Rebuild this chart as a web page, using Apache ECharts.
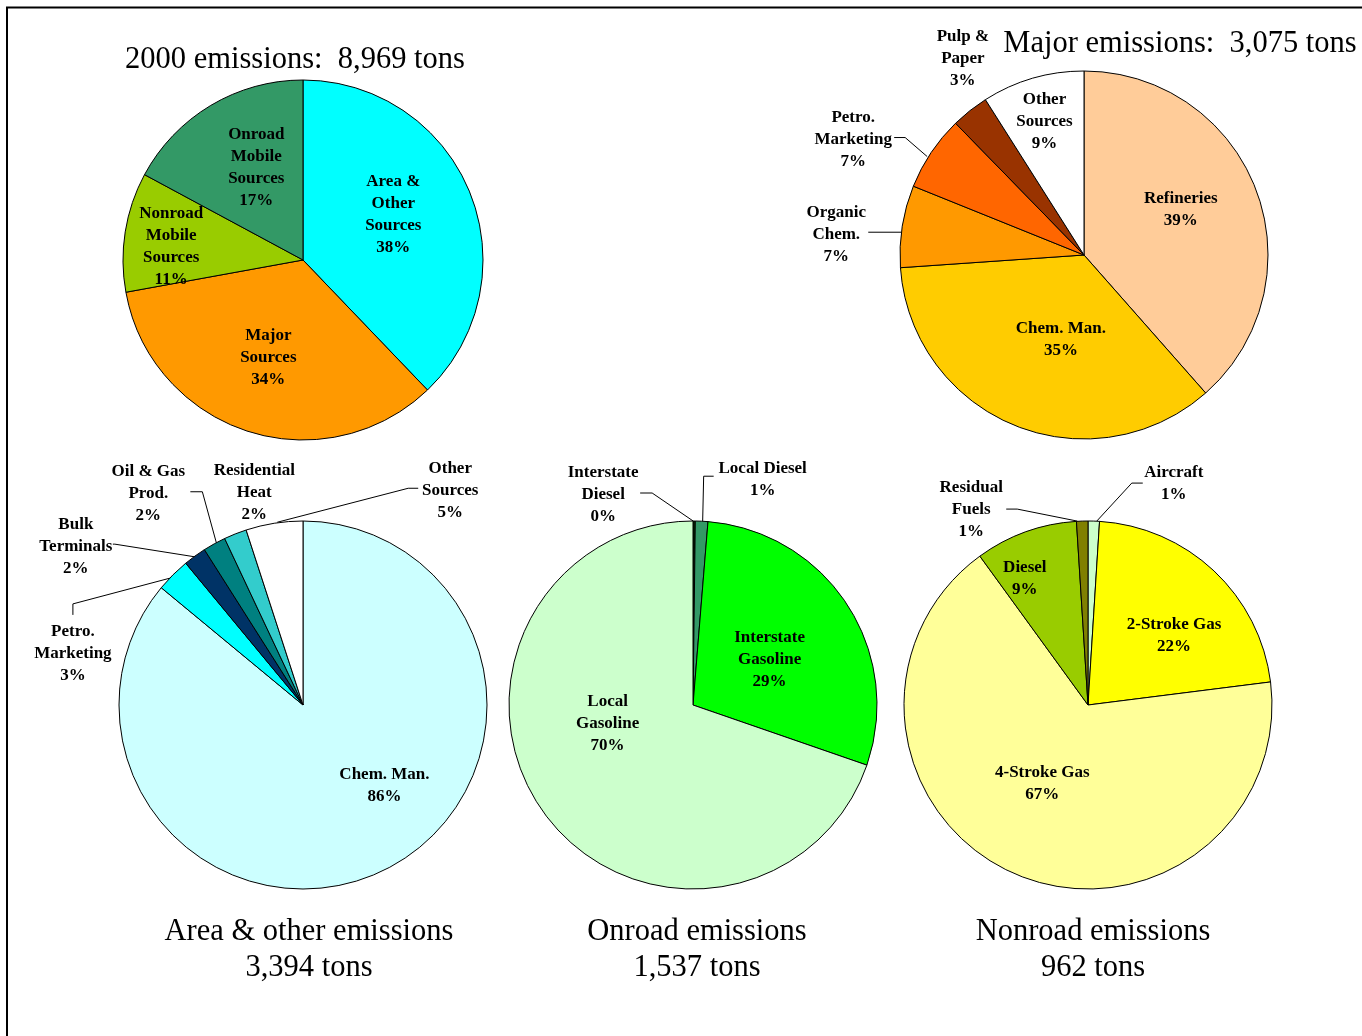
<!DOCTYPE html>
<html>
<head>
<meta charset="utf-8">
<title>Emissions by source</title>
<script src="https://cdn.jsdelivr.net/npm/echarts@6/dist/echarts.min.js"></script>
<style>
  html, body { margin: 0; padding: 0; background: #fff; }
  #chart { width: 1362px; height: 1036px; }
</style>
</head>
<body>
<div id="chart"></div>
<script>
// ---- data -------------------------------------------------------------
// 2000 emissions by sector (tons)
const totalNames = ['Area &\nOther\nSources', 'Major\nSources', 'Nonroad\nMobile\nSources', 'Onroad\nMobile\nSources'];
const totalTons = [3394, 3075, 962, 1537];

// Major sources (% of 3,075 tons)
const majorNames = ['Refineries', 'Chem. Man.', 'Organic\nChem.', 'Petro.\nMarketing', 'Pulp &\nPaper', 'Other\nSources'];
const majorPct = [38.5, 35.4, 7.2, 6.6, 3.3, 9.0];

// Area & other sources (% of 3,394 tons)
const areaNames = ['Chem. Man.', 'Petro.\nMarketing', 'Bulk\nTerminals', 'Oil & Gas\nProd.', 'Residential\nHeat', 'Other\nSources'];
const areaPct = [86, 3, 2, 2, 2, 5];

// Onroad mobile (% of 1,537 tons)
const onroadNames = ['Interstate\nDiesel', 'Local Diesel', 'Interstate\nGasoline', 'Local\nGasoline'];
const onroadPct = [0.2, 1.1, 29, 69.7];

// Nonroad mobile (% of 962 tons)
const nonroadNames = ['Aircraft', '2-Stroke Gas', '4-Stroke Gas', 'Diesel', 'Residual\nFuels'];
const nonroadPct = [1, 22, 67, 9, 1];

// Chart headings
const headings = [
  '2000 emissions:  8,969 tons',
  'Major emissions:  3,075 tons',
  'Area & other emissions\n3,394 tons',
  'Onroad emissions\n1,537 tons',
  'Nonroad emissions\n962 tons'
];

// ---- styles & layout ---------------------------------------------------
const SERIF = '"Liberation Serif", "Times New Roman", serif';

const totalColors   = ['#00FFFF', '#FF9900', '#99CC00', '#339966'];
const majorColors   = ['#FFCC99', '#FFCC00', '#FF9900', '#FF6600', '#993300', '#FFFFFF'];
const areaColors    = ['#CCFFFF', '#00FFFF', '#003366', '#008080', '#33CCCC', '#FFFFFF'];
const onroadColors  = ['#003300', '#339966', '#00FF00', '#CCFFCC'];
const nonroadColors = ['#CCFFCC', '#FFFF00', '#FFFF99', '#99CC00', '#808000'];

// Label placement per slice:
//   nudge: shift of an inside label from its default spot
//   out:   label centre relative to the slice's outer mid point
//   line:  leader line vertices relative to the same point
const pies = [
  {
    names: totalNames, values: totalTons, colors: totalColors, center: [303, 260], r: 180,
    place: [{ nudge: [4, -11] }, { nudge: [-6, 9] }, { nudge: [-40, 1] }, { nudge: [1, -13] }]
  },
  {
    names: majorNames, values: majorPct, colors: majorColors, center: [1084, 255], r: 184,
    place: [
      { nudge: [8, -12] },
      { nudge: [13, -3] },
      { out: [-66, 8], line: [[-1, 6], [-34, 6]] },
      { out: [-78, -13], line: [[-4, 4], [-26, -15], [-37, -15]] },
      { out: [-7, -52] },
      { nudge: [-13, -42] }
    ]
  },
  {
    names: areaNames, values: areaPct, colors: areaColors, center: [303, 705], r: 184,
    place: [
      { nudge: [41, -5] },
      { out: [-100, 79], line: [[-2, 3], [-100, 29], [-100, 40]] },
      { out: [-119, -10], line: [[2, 1], [-80, -12], [-82, -12]] },
      { out: [-66, -50], line: [[2, -1], [-12, -52], [-24, -52]] },
      { out: [19, -41] },
      { out: [176, -33], line: [[3, -1], [134, -35], [144, -35]] }
    ]
  },
  {
    names: onroadNames, values: onroadPct, colors: onroadColors, center: [693, 705], r: 184,
    place: [
      { out: [-91, -26], line: [[-1, 0], [-42, -28], [-54, -28]] },
      { out: [61, -42], line: [[1, 0], [2, -45], [12, -45]] },
      { nudge: [-3, 7] },
      { nudge: [-8, -37] }
    ]
  },
  {
    names: nonroadNames, values: nonroadPct, colors: nonroadColors, center: [1088, 705], r: 184,
    place: [
      { out: [80, -37], line: [[3, 0], [38, -38], [49, -38]] },
      { nudge: [21, 0] },
      { nudge: [-8, -9] },
      { nudge: [-31, -37] },
      { out: [-111, -11], line: [[-5, 0], [-65, -12], [-76, -12]] }
    ]
  }
];

const headingSpots = [[295, 60], [1180, 44], [309, 950], [697, 950], [1093, 950]];

// Point on the rim at the middle of slice i (slices run clockwise from 12 o'clock)
function rimPoint(pie, i) {
  const sum = pie.values.reduce((a, b) => a + b, 0);
  let before = 0;
  for (let k = 0; k < i; k++) before += pie.values[k];
  const a = (before + pie.values[i] / 2) / sum * Math.PI * 2;
  return [pie.center[0] + pie.r * Math.sin(a), pie.center[1] - pie.r * Math.cos(a)];
}

function makeLabelLayout(pie) {
  return function (params) {
    const spec = pie.place[params.dataIndex] || {};
    if (spec.out) {
      const p = rimPoint(pie, params.dataIndex);
      const res = { x: p[0] + spec.out[0], y: p[1] + spec.out[1], align: 'center', verticalAlign: 'middle' };
      if (spec.line) res.labelLinePoints = spec.line.map(d => [p[0] + d[0], p[1] + d[1]]);
      return res;
    }
    const rc = params.labelRect;
    const n = spec.nudge || [0, 0];
    return { x: rc.x + rc.width / 2 + n[0], y: rc.y + rc.height / 2 + n[1], align: 'center', verticalAlign: 'middle' };
  };
}

function buildSeries(pie) {
  return {
    type: 'pie',
    center: pie.center,
    radius: pie.r,
    startAngle: 90,
    clockwise: true,
    avoidLabelOverlap: false,
    percentPrecision: 0,
    silent: true,
    emphasis: { disabled: true },
    itemStyle: { borderColor: '#000', borderWidth: 1 },
    label: {
      show: true,
      position: 'inside',
      formatter: p => p.name + '\n' + p.percent + '%',
      color: '#000',
      fontFamily: SERIF,
      fontWeight: 'bold',
      fontSize: 17,
      lineHeight: 22,
      align: 'center',
      overflow: 'none'
    },
    labelLine: { show: false, smooth: false, lineStyle: { color: '#000', width: 1 } },
    data: pie.names.map((name, i) => {
      const spec = pie.place[i] || {};
      return {
        name: name,
        value: pie.values[i],
        itemStyle: { color: pie.colors[i] },
        label: { position: spec.out ? 'outside' : 'inside' },
        labelLine: { show: !!spec.line }
      };
    }),
    labelLayout: makeLabelLayout(pie)
  };
}

const graphics = [
  {
    type: 'rect',
    shape: { x: 7, y: 7.5, width: 1420, height: 1100 },
    style: { fill: 'none', stroke: '#000', lineWidth: 2 },
    silent: true
  }
].concat(headings.map((t, i) => ({
  type: 'text',
  x: headingSpots[i][0],
  y: headingSpots[i][1],
  silent: true,
  style: {
    text: t,
    fill: '#000',
    fontFamily: SERIF,
    fontSize: 30.5,
    lineHeight: 36,
    align: 'center',
    verticalAlign: 'middle'
  }
})));

const chart = echarts.init(document.getElementById('chart'), null, { renderer: 'canvas' });
chart.setOption({
  backgroundColor: '#fff',
  animation: false,
  series: pies.map(buildSeries),
  graphic: graphics
});
</script>
</body>
</html>
